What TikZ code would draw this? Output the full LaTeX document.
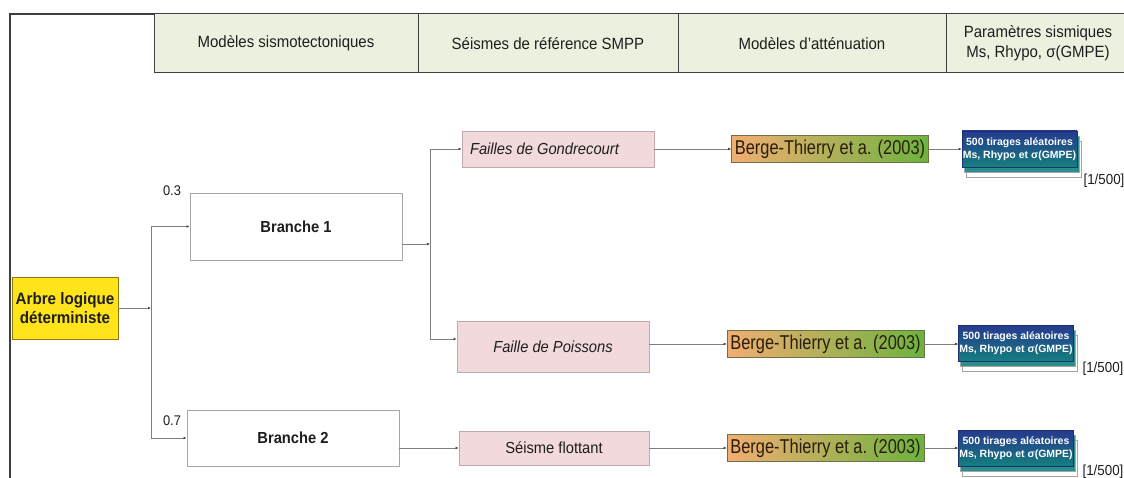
\documentclass[tikz,border=0pt]{standalone}
\usepackage{fontspec}
\setmainfont{Liberation Sans}[FakeStretch=0.92]
\newfontfamily\narrowfont{Liberation Sans}[FakeStretch=0.82]
\newfontfamily\plainfont{Liberation Sans}
\usetikzlibrary{arrows.meta,calc}
\definecolor{hdrfill}{HTML}{EBF1DE}
\definecolor{hdrline}{HTML}{3F3F3F}
\definecolor{txt}{HTML}{1E1E1E}
\definecolor{pinkfill}{HTML}{F2D9DC}
\definecolor{pinkline}{HTML}{BFA9AC}
\definecolor{boxline}{HTML}{A6A6A6}
\definecolor{yel}{HTML}{FFE41C}
\definecolor{yelline}{HTML}{8C7A10}
\definecolor{conn}{HTML}{7F7F7F}
\definecolor{tipc}{HTML}{404040}
\definecolor{orng}{HTML}{F2AE72}
\definecolor{midg}{HTML}{C4BA58}
\definecolor{grn}{HTML}{6CB33E}
\definecolor{bergeline}{HTML}{6E7048}
\definecolor{bergetxt}{HTML}{2B1D0E}
\definecolor{dblue}{HTML}{263A8E}
\definecolor{teal1}{HTML}{14807E}
\definecolor{backteal}{HTML}{2A8F8C}
\newcommand\tirage[3]{%
  \node[backB] (#1bb) at (#2+4,#3+10) {};
  \node[backA] (#1ba) at (#2+2,#3+5) {};
  \node[bluebox] (#1) at (#2,#3) {500 tirages aléatoires\\Ms, Rhypo et σ(GMPE)};
}
\begin{document}
\begin{tikzpicture}[x=1pt,y=-1pt,
  hdr/.style={draw=hdrline, line width=1pt, fill=hdrfill, minimum height=59pt,
    inner sep=0pt, align=center, text=txt, font=\fontsize{16.3}{20}\selectfont},
  whitebox/.style={draw=boxline, line width=0.8pt, fill=white, inner sep=0pt,
    text=txt, font=\bfseries\fontsize{16}{19}\selectfont},
  pinkbox/.style={draw=pinkline, line width=0.8pt, fill=pinkfill, inner sep=0pt,
    text=txt, font=\fontsize{16}{19}\selectfont},
  yelbox/.style={draw=yelline, line width=0.8pt, fill=yel, inner sep=0pt, align=center,
    text=txt, font=\bfseries\fontsize{16.5}{19}\selectfont},
  bergebox/.style={draw=bergeline, line width=0.6pt, left color=orng, middle color=midg,
    right color=grn, shading angle=90, minimum width=197pt, minimum height=27pt,
    inner sep=0pt, text=bergetxt, font=\narrowfont\fontsize{20}{24}\selectfont},
  bluebox/.style={draw=dblue!80!black, line width=0.6pt, top color=dblue, bottom color=teal1,
    middle color=dblue!55!teal1, minimum width=115pt, minimum height=36pt, inner sep=0pt,
    align=center, text=white, font=\plainfont\bfseries\fontsize{10.5}{12.5}\selectfont},
  backA/.style={draw=boxline, line width=0.5pt, fill=backteal, minimum width=115pt, minimum height=36pt},
  backB/.style={draw=boxline, line width=0.5pt, fill=white, minimum width=115pt, minimum height=36pt},
  lbl/.style={text=txt, inner sep=0pt, font=\fontsize{14}{16}\selectfont},
  conline/.style={draw=conn, line width=0.8pt},
  arr/.style={conline, -{Latex[length=3pt,width=2.6pt,color=tipc]}},
  frame/.style={draw=hdrline, line width=1.3pt}
]
\clip (0,0) rectangle (1124,478);
\fill[white] (0,0) rectangle (1124,478);

% frame and header
\draw[frame] (10,478) -- (10,14) -- (1124,14);
\node[hdr, minimum width=264pt] (h1) at (286,43.5) {Modèles sismotectoniques};
\node[hdr, minimum width=260pt] (h2) at (548,43.5) {Séismes de référence SMPP};
\node[hdr, minimum width=268pt] (h3) at (812,43.5) {Modèles d'atténuation};
\node[hdr, minimum width=184pt] (h4) at (1038,43.5) {Paramètres sismiques\\Ms, Rhypo, σ(GMPE)};

% main nodes
\node[yelbox, minimum width=106pt, minimum height=62pt] (arbre) at (65,308) {Arbre logique\\déterministe};
\node[whitebox, minimum width=212pt, minimum height=67pt] (b1) at (296,226.5) {Branche 1};
\node[whitebox, minimum width=212pt, minimum height=56pt] (b2) at (293,438) {Branche 2};
\node[lbl] (p03) at (172,191) {0.3};
\node[lbl] (p07) at (172,421) {0.7};

\node[pinkbox, minimum width=192pt, minimum height=36pt,
  font=\itshape\fontsize{16}{19}\selectfont] (fg) at (558,149) {\makebox[176pt][l]{Failles de Gondrecourt}};
\node[pinkbox, minimum width=192pt, minimum height=51pt, font=\itshape\fontsize{16}{19}\selectfont] (fp) at (553,346.5) {Faille de Poissons};
\node[pinkbox, minimum width=190pt, minimum height=34pt] (sf) at (554,448) {Séisme flottant};

\node[bergebox] (be1) at (830,149) {Berge-Thierry et a. (2003)};
\node[bergebox] (be2) at (825.5,344) {Berge-Thierry et a. (2003)};
\node[bergebox] (be3) at (825.5,448) {Berge-Thierry et a. (2003)};

\tirage{t1}{1019.5}{149}
\tirage{t2}{1016}{343}
\tirage{t3}{1016}{448}

\node[lbl, font=\fontsize{14.5}{17}\selectfont] (l1) at (1104,181) {[1/500]};
\node[lbl, font=\fontsize{14.5}{17}\selectfont] (l2) at (1103,369) {[1/500]};
\node[lbl, font=\fontsize{14.5}{17}\selectfont] (l3) at (1103,472) {[1/500]};

% connectors
\coordinate (j1) at (151,308);
\coordinate (j2) at (430,244);
\draw[arr] (arbre.east) -- (j1);
\draw[arr] (j1) |- (b1.west);
\draw[arr] (j1) |- (b2.west);
\draw[arr] ([yshift=-17.5pt]b1.east) -- (j2);
\draw[arr] (j2) |- (fg.west);
\draw[arr] (j2) |- ([yshift=7.5pt]fp.west);
\draw[arr] (b2.east |- sf.west) -- (sf.west);
\draw[arr] (fg.east |- be1.west) -- (be1.west);
\draw[arr] (fp.east |- be2.west) -- (be2.west);
\draw[arr] (sf.east |- be3.west) -- (be3.west);
\draw[arr] (be1.east) -- (t1.west |- be1.east);
\draw[arr] (be2.east) -- (t2.west |- be2.east);
\draw[arr] (be3.east) -- (t3.west |- be3.east);
\end{tikzpicture}
\end{document}
